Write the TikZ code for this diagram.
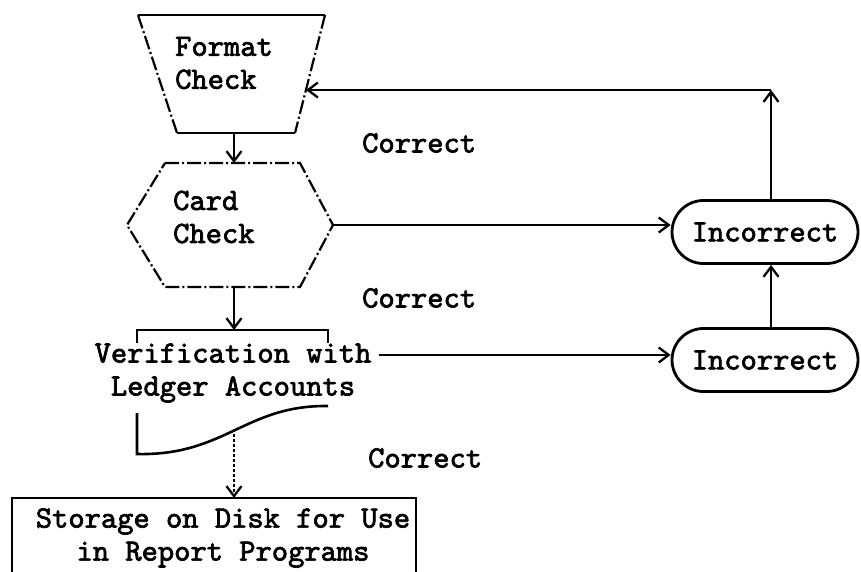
\documentclass[tikz,border=0pt]{standalone}
\usepackage{fontspec}
\setmonofont{lmmono10-regular.otf}[AutoFakeBold=2.2]
\usetikzlibrary{arrows.meta,shapes.misc}
\begin{document}
\begin{tikzpicture}[x=1pt,y=-1pt,
  txt/.style={font=\ttfamily\bfseries\fontsize{31}{33}\selectfont, inner sep=0pt, align=left},
  ctxt/.style={font=\ttfamily\bfseries\fontsize{31}{33}\selectfont, inner sep=0pt, align=center},
  solidline/.style={line width=2.6pt},
  dashline/.style={line width=2.2pt, dash pattern=on 14pt off 3pt on 2pt off 3pt},
  conn/.style={line width=2.5pt, -{Straight Barb[length=10pt,width=15pt,line width=2.3pt]}},
  pill/.style={rounded rectangle, draw, line width=2.8pt, minimum width=186pt, minimum height=63pt, inner sep=0pt, font=\ttfamily\bfseries\fontsize{31}{33}\selectfont}
]
\useasboundingbox (0,0) rectangle (861,571);
% Format check trapezoid
\coordinate (fTL) at (138,15); \coordinate (fTR) at (325,15);
\coordinate (fBL) at (177,133); \coordinate (fBR) at (295,133);
\draw[solidline] (fTL) -- (fTR);
\draw[solidline] (fBL) -- (fBR);
\draw[dashline] (fTL) -- (fBL);
\draw[dashline] (fTR) -- (fBR);
\node[txt, anchor=west] (fmt) at (175,63) {Format\\Check};
\coordinate (fmtB) at (234,133);
\coordinate (fmtR) at (306,90);
% Card check hexagon
\coordinate (hT1) at (165,163); \coordinate (hT2) at (300,163);
\coordinate (hR) at (333,225); \coordinate (hB2) at (300,287);
\coordinate (hB1) at (165,287); \coordinate (hL) at (127,225);
\draw[dashline] (hT1) -- (hT2) -- (hR) -- (hB2) -- (hB1) -- (hL) -- cycle;
\node[txt, anchor=west] (card) at (173,217) {Card\\Check};
\coordinate (hTop) at (234,163);
\coordinate (hBot) at (234,287);
% Verification
\draw[solidline] (137,343) -- (137,330) -- (328,330) -- (328,343);
\coordinate (vTop) at (234,330);
\node[ctxt] (ver) at (233,373) {Verification with\\Ledger Accounts};
\draw[solidline] (137,413) -- (137,454) .. controls (225,456) and (245,405) .. (328,406);
\coordinate (vBot) at (234,434);
\coordinate (vR) at (379,355);
% Storage
\draw[solidline] (12,575) -- (12,498) -- (416,498) -- (416,575);
\coordinate (sTop) at (234,498);
\node[ctxt] (stor) at (223,538) {Storage on Disk for Use\\in Report Programs};
% Incorrect nodes
\node[pill] (inc1) at (765,232) {Incorrect};
\node[pill] (inc2) at (765,360) {Incorrect};
\coordinate (corner) at (771,90);
% Labels
\node[txt, anchor=west] (c1) at (362,143) {Correct};
\node[txt, anchor=west] (c2) at (362,298) {Correct};
\node[txt, anchor=west] (c3) at (368,458) {Correct};
% Connectors
\draw[conn] (fmtB) -- (hTop);
\draw[conn] (hBot) -- (vTop);
\draw[conn, line width=1.8pt, densely dashed] (vBot) -- (sTop);
\draw[conn] (hR) -- (inc1.west |- hR);
\draw[conn] (vR) -- (inc2.west |- vR);
\draw[conn] (inc2.north -| corner) -- (inc1.south -| corner);
\draw[conn] (inc1.north -| corner) -- (corner);
\draw[conn] (corner) -- (fmtR);
\end{tikzpicture}
\end{document}
